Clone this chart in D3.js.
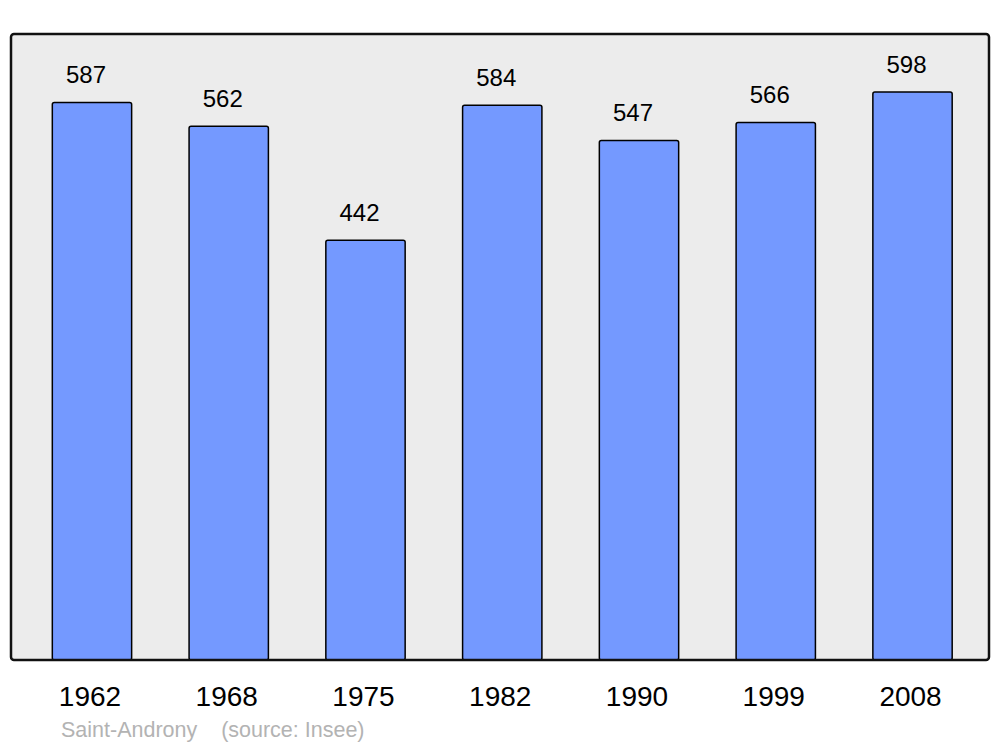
<!DOCTYPE html>
<html>
<head>
<meta charset="utf-8">
<script src="https://cdn.jsdelivr.net/npm/d3@7"></script>
<style>
  html, body { margin: 0; padding: 0; background: #ffffff; }
  svg { display: block; }
  text { font-family: "Liberation Sans", Arial, sans-serif; }
</style>
</head>
<body>
<script>
const years = ["1962", "1968", "1975", "1982", "1990", "1999", "2008"];
const population = [587, 562, 442, 584, 547, 566, 598];
const footerText = "Saint-Androny    (source: Insee)";

const W = 1000, H = 747;
const frame = { x0: 11, x1: 989, y0: 34, y1: 660 };

const svg = d3.select("body").append("svg")
  .attr("width", W).attr("height", H);

svg.append("rect")
  .attr("x", frame.x0).attr("y", frame.y0)
  .attr("width", frame.x1 - frame.x0).attr("height", frame.y1 - frame.y0)
  .attr("rx", 3).attr("ry", 3)
  .attr("fill", "#ececec");

const x = d3.scaleBand()
  .domain(years)
  .range([23.6, 980.9])
  .paddingInner(0.42)
  .paddingOuter(0.21);

const y = d3.scaleLinear()
  .domain([0, 598])
  .range([frame.y1, 92]);

const data = years.map((yr, i) => ({ year: yr, value: population[i] }));

svg.append("g").selectAll("rect")
  .data(data).enter().append("rect")
  .attr("x", d => x(d.year))
  .attr("y", d => y(d.value))
  .attr("width", x.bandwidth())
  .attr("height", d => frame.y1 - y(d.value))
  .attr("rx", 2).attr("ry", 2)
  .attr("fill", "#7499ff")
  .attr("stroke", "#000")
  .attr("stroke-width", 1.5);

svg.append("g").selectAll("text")
  .data(data).enter().append("text")
  .attr("x", d => x(d.year) + x.bandwidth() / 2 - 6)
  .attr("y", d => y(d.value) - 19)
  .attr("text-anchor", "middle")
  .attr("font-size", 24)
  .attr("fill", "#000")
  .text(d => d.value);

// frame outline on top
svg.append("rect")
  .attr("x", frame.x0).attr("y", frame.y0)
  .attr("width", frame.x1 - frame.x0).attr("height", frame.y1 - frame.y0)
  .attr("rx", 3).attr("ry", 3)
  .attr("fill", "none")
  .attr("stroke", "#111")
  .attr("stroke-width", 2.5);

const xAxis = d3.axisBottom(x).tickSize(0).tickPadding(0);
const ax = svg.append("g")
  .attr("transform", `translate(-2, 706)`)
  .call(xAxis);
ax.select(".domain").remove();
ax.selectAll("text")
  .attr("dy", 0)
  .attr("font-size", 28)
  .attr("font-family", "'Liberation Sans', Arial, sans-serif")
  .attr("fill", "#000");

svg.append("text")
  .attr("x", 61).attr("y", 737)
  .attr("font-size", 21.5)
  .attr("fill", "#b3b3b3")
  .style("white-space", "pre")
  .text(footerText);
</script>
</body>
</html>
